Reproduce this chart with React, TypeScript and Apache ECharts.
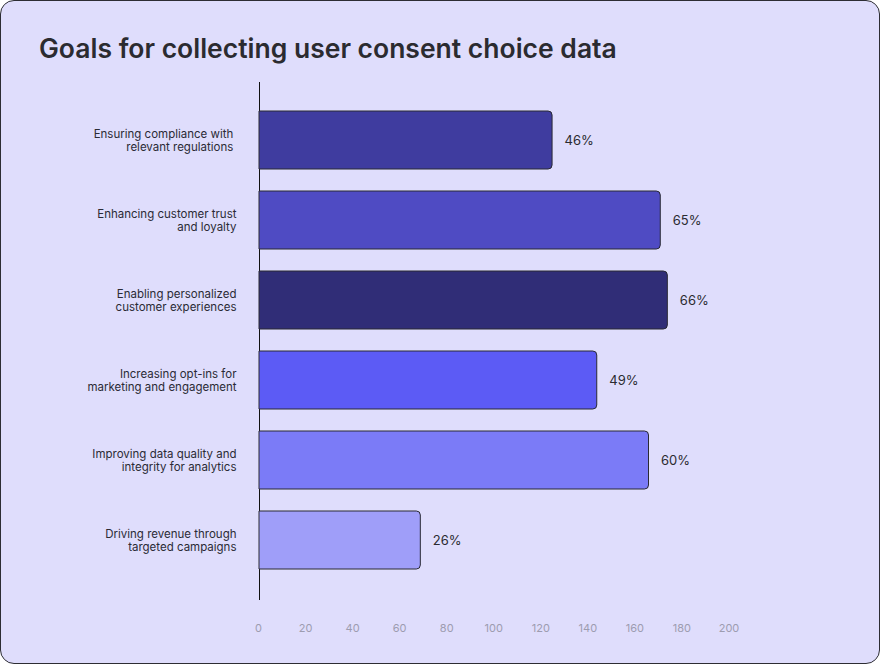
import React, { useEffect, useRef } from "react";
import * as echarts from "echarts";

const titleText = "Goals for collecting user consent choice data";
const categories = [
  "Ensuring compliance with \nrelevant regulations ",
  "Enhancing customer trust\nand loyalty",
  "Enabling personalized\ncustomer experiences",
  "Increasing opt-ins for\nmarketing and engagement",
  "Improving data quality and\nintegrity for analytics",
  "Driving revenue through\ntargeted campaigns",
];
const values = [125, 171, 174, 144, 166, 69];
const percentLabels = ["46%", "65%", "66%", "49%", "60%", "26%"];
const barColors = ["#3f3c9f", "#4f4bc3", "#302d77", "#5c5bf5", "#7b7bf7", "#9f9ef9"];
const xTicks = { min: 0, max: 200, interval: 20 };

export default function App() {
  const ref = useRef<HTMLDivElement>(null);
  useEffect(() => {
    document.body.style.margin = "0";
    const chart = echarts.init(ref.current!, undefined, { renderer: "svg" });
    chart.setOption({
      animation: false,
      backgroundColor: "transparent",
      title: {
        text: titleText,
        left: 34,
        top: 29,
        textStyle: {
          fontFamily: "Inter",
          fontSize: 26.5,
          fontWeight: 600,
          color: "#2b2b30",
        },
      },
      grid: { left: 258.5, right: 151, top: 100, bottom: 84 },
      xAxis: {
        type: "value",
        min: xTicks.min,
        max: xTicks.max,
        interval: xTicks.interval,
        axisLine: { show: false },
        axisTick: { show: false },
        splitLine: { show: false },
        axisLabel: {
          color: "#9d9cb0",
          fontSize: 11,
          fontFamily: "Inter",
          margin: 42,
        },
      },
      yAxis: {
        type: "category",
        inverse: true,
        data: categories,
        axisLine: { show: false },
        axisTick: { show: false },
        axisLabel: {
          color: "#2b2b35",
          fontSize: 11.5,
          fontFamily: "Inter",
          lineHeight: 13,
          align: "right",
          margin: 22,
        },
      },
      series: [
        {
          type: "bar",
          barWidth: 59,
          data: values.map((v, i) => ({
            value: v,
            itemStyle: { color: barColors[i] },
          })),
          itemStyle: {
            borderColor: "#2a2a33",
            borderWidth: 1,
            borderRadius: [0, 4, 4, 0],
          },
          label: {
            show: true,
            position: "right",
            distance: 12,
            formatter: (p: any) => percentLabels[p.dataIndex],
            color: "#2b2b30",
            fontSize: 13,
            fontFamily: "Inter",
          },
        },
      ],
    });
    const x0 = chart.convertToPixel({ xAxisIndex: 0 }, 0) as number;
    chart.setOption({
      graphic: [
        {
          type: "line",
          shape: { x1: Math.round(x0) + 0.5, y1: 82, x2: Math.round(x0) + 0.5, y2: 600 },
          style: { stroke: "#111", lineWidth: 1 },
          silent: true,
        },
      ],
    });
    return () => chart.dispose();
  }, []);
  return (
    <div
      style={{
        position: "fixed",
        left: 0,
        top: 0,
        width: 880,
        height: 664,
        boxSizing: "border-box",
        background: "#dfddfc",
        border: "1px solid #2d2d33",
        borderRadius: 14,
        overflow: "hidden",
      }}
    >
      <div ref={ref} style={{ position: "absolute", left: -1, top: -1, width: 880, height: 664 }} />
    </div>
  );
}
